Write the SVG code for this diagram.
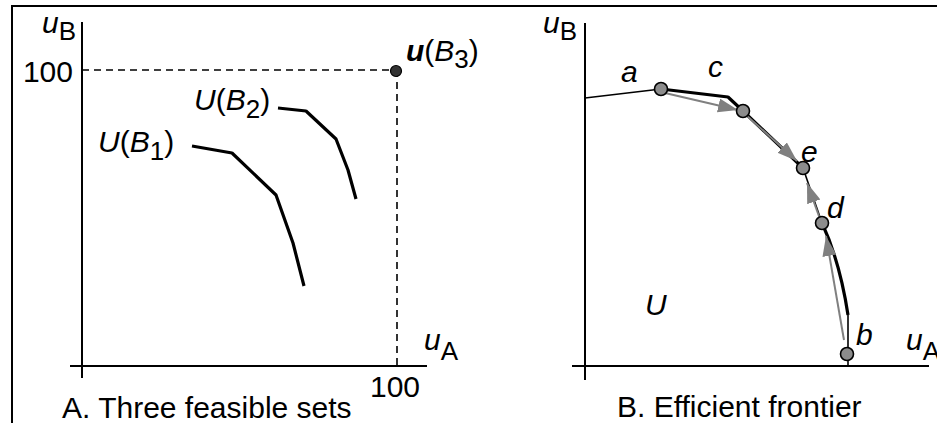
<svg xmlns="http://www.w3.org/2000/svg" width="937" height="423" viewBox="0 0 937 423">
<style>
.t{font-family:"Liberation Sans",Arial,sans-serif;font-size:30px;fill:#000}
.i{font-style:italic}
.s{font-size:26px}
.ax{stroke:#000;stroke-width:2;fill:none}
.thin{stroke:#000;stroke-width:1.6;fill:none}
.thick{stroke:#000;stroke-width:3.2;fill:none;stroke-linejoin:round}
.dash{stroke:#000;stroke-width:1.6;stroke-dasharray:7,5;fill:none}
.arr{stroke:#808080;stroke-width:2;fill:none}
.pt{fill:#8c8c8c;stroke:#000;stroke-width:1.6}
</style>
<defs>
<marker id="ah" markerUnits="userSpaceOnUse" markerWidth="22" markerHeight="16" refX="20" refY="7" orient="auto">
<path d="M0,0 L20,7 L0,14 z" fill="#808080"/>
</marker>
</defs>
<rect width="937" height="423" fill="#fff"/>
<path d="M12,423 V6 H937" class="ax" stroke-width="2.5"/>

<g id="panelA">
<g id="axesA">
<path d="M82,22 V378" class="ax"/>
<path d="M70,366 H427" class="ax"/>
</g>
<g id="connectorsA">
<path d="M82,70 H396" class="dash"/>
<path d="M397,70 V366" class="dash"/>
<path d="M192,146 L232,153 L276,195 L293,243 L304,286" class="thick"/>
<path d="M278,108 L306,111 L336,139 L348,170 L356,199" class="thick"/>
</g>
<g id="nodeB3">
<circle cx="396" cy="71" r="5.5" fill="#333" stroke="#000" stroke-width="1.2"/>
<text class="t" x="406" y="61"><tspan font-weight="bold" font-style="italic">u</tspan>(<tspan class="i">B</tspan><tspan class="s" dy="7">3</tspan><tspan dy="-7">)</tspan></text>
</g>
<text class="t" x="42" y="33"><tspan class="i">u</tspan><tspan class="s" dy="7">B</tspan></text>
<text class="t" x="73" y="82" text-anchor="end" font-size="27">100</text>
<text class="t" x="395" y="397" text-anchor="middle" font-size="27">100</text>
<text class="t" x="424" y="350"><tspan class="i">u</tspan><tspan class="s" dy="10">A</tspan></text>
<g id="labelB2"><text class="t" x="194" y="110"><tspan class="i">U</tspan>(<tspan class="i">B</tspan><tspan class="s" dy="8">2</tspan><tspan dy="-8">)</tspan></text></g>
<g id="labelB1"><text class="t" x="98" y="152"><tspan class="i">U</tspan>(<tspan class="i">B</tspan><tspan class="s" dy="8">1</tspan><tspan dy="-8">)</tspan></text></g>
<text class="t" x="62" y="418">A. Three feasible sets</text>
</g>

<g id="panelB">
<g id="axesB">
<path d="M585,23 V380" class="ax"/>
<path d="M572,366 H929" class="ax"/>
</g>
<g id="connectors">
<path d="M585,98 L661,89" class="thin"/>
<path d="M661,89 L728,97 L743,111 L803,168" class="thick"/>
<path d="M803,168 L822,223" class="thin" stroke-width="2"/>
<path d="M822,223 Q840,262 848,315" class="thick"/>
<path d="M848,315 V366" class="thin"/>
<path d="M665,93 L738,110" class="arr" marker-end="url(#ah)"/>
<path d="M746,115 L797,161" class="arr" marker-end="url(#ah)"/>
<path d="M820,219 L807,183" class="arr" marker-end="url(#ah)"/>
<path d="M844,340 L826,236" class="arr" marker-end="url(#ah)"/>
</g>
<g id="node-a"><circle cx="661" cy="89" r="6.5" class="pt"/><text class="t i" x="621" y="82">a</text></g>
<g id="node-c"><circle cx="743" cy="111" r="6.5" class="pt"/><text class="t i" x="708" y="77">c</text></g>
<g id="node-e"><circle cx="803" cy="168" r="6.5" class="pt"/><text class="t i" x="801" y="162">e</text></g>
<g id="node-d"><circle cx="822" cy="223" r="6.5" class="pt"/><text class="t i" x="827" y="218">d</text></g>
<g id="node-b"><circle cx="847" cy="354" r="6.5" class="pt"/><text class="t i" x="856" y="345">b</text></g>
<text class="t i" x="645" y="315">U</text>
<text class="t" x="543" y="33"><tspan class="i">u</tspan><tspan class="s" dy="7">B</tspan></text>
<text class="t" x="906" y="350"><tspan class="i">u</tspan><tspan class="s" dy="10">A</tspan></text>
<text class="t" x="617" y="417">B. Efficient frontier</text>
</g>
</svg>
